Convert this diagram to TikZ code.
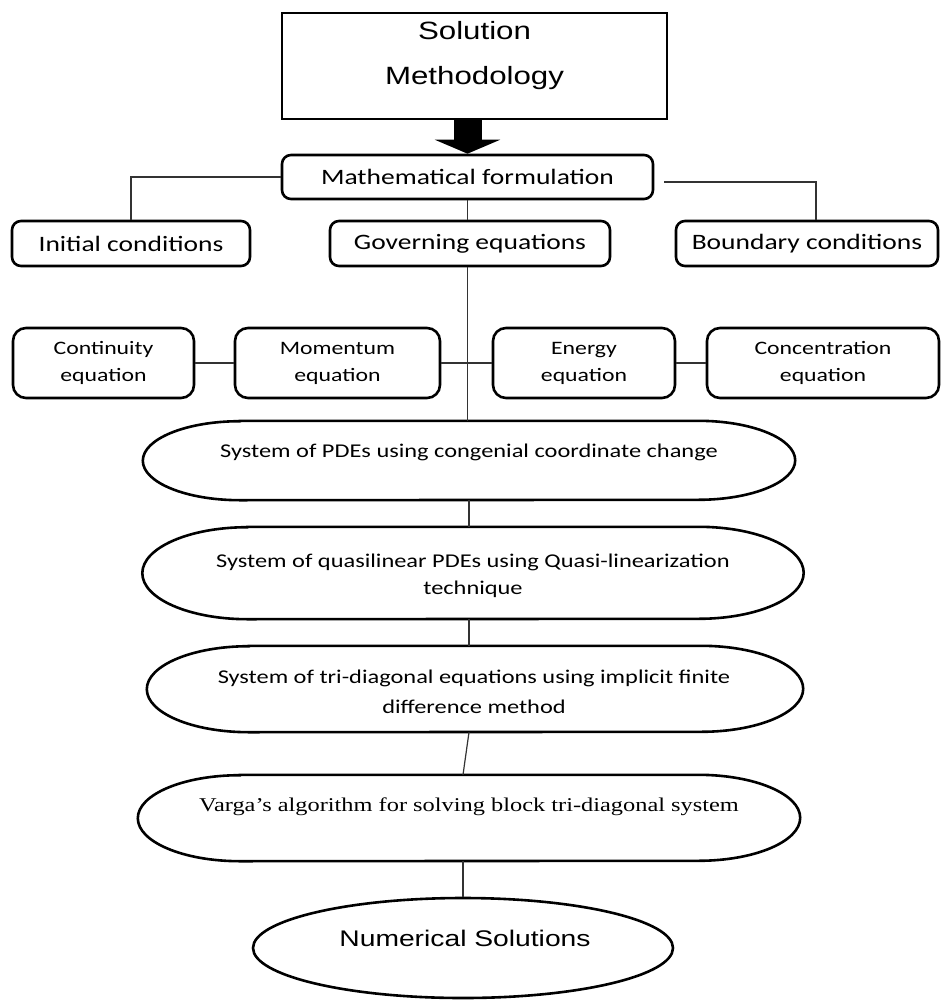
\documentclass[tikz,border=0pt]{standalone}
\usepackage{fontspec}
\setmainfont{Carlito}[FakeStretch=1.25]
\newfontfamily\arialfont{Liberation Sans}[FakeStretch=1.25]
\newfontfamily\timesfont{Liberation Serif}[FakeStretch=1.25]
\usetikzlibrary{arrows.meta, shapes.geometric}

\tikzset{
  box/.style={draw, line width=2.6pt, rounded corners=9pt, inner sep=0pt},
  lvlbox/.style={box, minimum height=45pt, font=\fontsize{22}{26}\selectfont},
  eqbox/.style={box, rounded corners=13pt, minimum height=70pt, align=center,
    font=\fontsize{19}{27}\selectfont},
  capnode/.style={inner sep=0pt},
  captext/.style={align=center, inner sep=0pt, font=\fontsize{19.5}{27}\selectfont},
  link/.style={line width=1.2pt, black!80}
}

% stadium outline round a node: name, cap x radius, cap y radius
\newcommand{\capsule}[3]{%
  \draw[line width=2.6pt] ([xshift=#2]#1.north west) -- ([xshift=-#2]#1.north east)
    arc[start angle=90, end angle=-90, x radius=#2, y radius=#3]
    -- ([xshift=#2]#1.south west)
    arc[start angle=270, end angle=90, x radius=#2, y radius=#3] -- cycle;}

\begin{document}
\begin{tikzpicture}[x=1pt, y=-1pt]
\fill[white] (0,0) rectangle (941,1001);
\useasboundingbox (0,0) rectangle (941,1001);

% title
\node[draw, line width=2.6pt, minimum width=385pt, minimum height=106pt] (top) at (474.5,66) {};
\node[align=center, font=\arialfont\fontsize{25}{45}\selectfont] (toptxt) at (474.5,56) {Solution\\Methodology};

% formulation
\node[lvlbox, minimum width=371pt, minimum height=44pt] (math) at (467.5,177) {Mathematical formulation};
\node[lvlbox, minimum width=238pt] (init) at (131,243.5) {Initial conditions};
\node[lvlbox, minimum width=280pt] (gov) at (470,243.5) {Governing equations};
\node[lvlbox, minimum width=262pt] (bnd) at (807,243.5) {Boundary conditions};

% equations
\node[eqbox, minimum width=181pt] (cont) at (103.5,363) {Continuity\\equation};
\node[eqbox, minimum width=205pt] (mom) at (337.5,363) {Momentum\\equation};
\node[eqbox, minimum width=182pt] (energy) at (584,363) {Energy\\equation};
\node[eqbox, minimum width=232pt] (conc) at (823,363) {Concentration\\equation};

% solution steps
\node[capnode, minimum width=652pt, minimum height=79pt] (pde1) at (469,460.5) {};
\capsule{pde1}{97pt}{39.5pt}
\node[captext] (pde1txt) at (469,452) {System of PDEs using congenial coordinate change};

\node[capnode, minimum width=661pt, minimum height=92pt] (pde2) at (473,573) {};
\capsule{pde2}{105pt}{46pt}
\node[captext] (pde2txt) at (473,575.5) {System of quasilinear PDEs using Quasi-linearization\\technique};

\node[capnode, minimum width=656pt, minimum height=86pt] (pde3) at (475,689) {};
\capsule{pde3}{102pt}{43pt}
\node[captext, font=\fontsize{19.5}{30}\selectfont] (pde3txt) at (474,692) {System of tri-diagonal equations using implicit finite\\difference method};

\node[capnode, minimum width=662pt, minimum height=86pt] (varga) at (469,818) {};
\capsule{varga}{102pt}{43pt}
\node[captext, font=\timesfont\fontsize{19.5}{24}\selectfont] (vargatxt) at (469,807) {Varga’s algorithm for solving block tri-diagonal system};

\node[draw, ellipse, line width=2.6pt, inner sep=0pt, minimum width=420pt, minimum height=100pt] (numsol) at (463,948) {};
\node[font=\arialfont\fontsize{22.6}{26}\selectfont, inner sep=0pt] (numtxt) at (465,938) {Numerical Solutions};

% connectors
\draw[line width=28pt, -{Triangle[width=65pt, length=14pt]}] (math.north |- top.south) -- (math.north);
\draw[link] (math.west) -| (init.north);
\draw[link] ([xshift=10pt, yshift=-5pt]math.east) -| ([xshift=9pt]bnd.north);
\draw[link] (math.south) -- (math.south |- gov.north);
\draw[link] (math.south |- gov.south) -- (math.south |- pde1.north);
\draw[link] (cont) -- (mom);
\draw[link] (mom) -- (energy);
\draw[link] (energy) -- (conc);
\draw[link] (pde1.south) -- (pde1.south |- pde2.north);
\draw[link] (pde1.south |- pde2.south) -- (pde1.south |- pde3.north);
\draw[link] (pde1.south |- pde3.south) -- (numsol.north |- varga.north);
\draw[link] (numsol.north |- varga.south) -- (numsol.north);

\end{tikzpicture}
\end{document}
